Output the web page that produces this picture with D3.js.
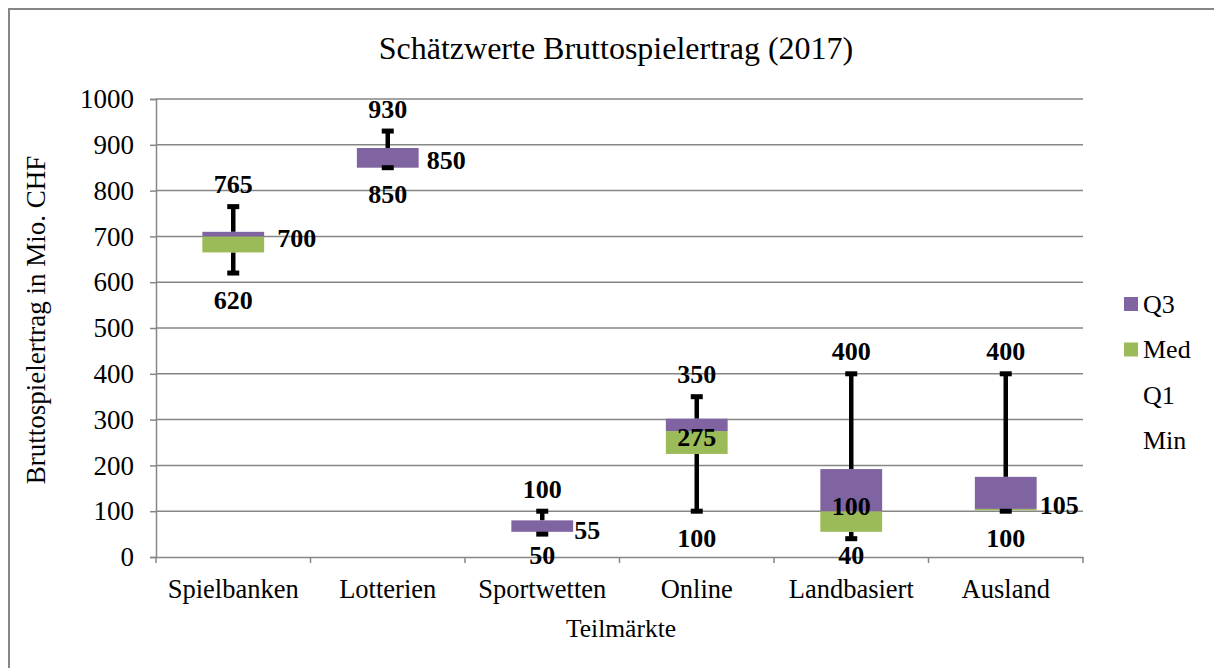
<!DOCTYPE html>
<html>
<head>
<meta charset="utf-8">
<script src="https://cdn.jsdelivr.net/npm/d3@7"></script>
<style>
  html, body { margin: 0; padding: 0; background: #fff; }
  svg { display: block; }
  text { font-family: "Liberation Serif", "Times New Roman", serif; fill: #000; }
</style>
</head>
<body>
<svg id="chart" width="1214" height="668"></svg>
<script>
// ---- data ----
const categories = ["Spielbanken", "Lotterien", "Sportwetten", "Online", "Landbasiert", "Ausland"];
const minVals    = [620, 850, 50, 100, 40, 100];
const q1Vals     = [665, 850, 55, 225, 55, 102];
const medVals    = [700, 850, 55, 275, 100, 105];
const q3Vals     = [710, 893, 80, 302, 192, 175];
const maxVals    = [765, 930, 100, 350, 400, 400];
const yTicks     = [0, 100, 200, 300, 400, 500, 600, 700, 800, 900, 1000];
const legendItems = ["Q3", "Med", "Q1", "Min"];
const legendColors = ["#8064A2", "#9BBB59", null, null];
// label placement styling (not data)
const medLabelPlacement = ["right", "right", "right", "center", "center", "right"];
const medLabelDx = [13, 8, 1, 0, 0, 3];
const medLabelDy = [2, -7, -1, 6, -5, -3];

(function () {
const svg = d3.select("#chart");
const pL = 156, pR = 1083, pT = 99, pB = 557;
const grid = "#868686";
const purple = "#8064A2", green = "#9BBB59";

// outer border
svg.append("path")
  .attr("d", "M9,700 L9,9 L1220,9")
  .attr("fill", "none").attr("stroke", grid).attr("stroke-width", 2);

const x = d3.scaleBand().domain(categories).range([pL, pR]).padding(0);
const y = d3.scaleLinear().domain([0, 1000]).range([pB, pT]);

// title
svg.append("text").attr("x", 616).attr("y", 59).attr("text-anchor", "middle")
  .style("font-size", "32px").text("Schätzwerte Bruttospielertrag (2017)");

// gridlines
svg.append("g").selectAll("line").data(yTicks.filter(d => d > 0)).join("line")
  .attr("x1", pL).attr("x2", pR)
  .attr("y1", d => y(d)).attr("y2", d => y(d))
  .attr("stroke", grid).attr("stroke-width", 1.5);

// y axis
const yAxis = svg.append("g").attr("transform", `translate(${pL},0)`)
  .call(d3.axisLeft(y).tickValues(yTicks).tickSize(6).tickPadding(16).tickFormat(d3.format("d")));
yAxis.select(".domain").attr("stroke", grid).attr("stroke-width", 1.5);
yAxis.selectAll(".tick line").attr("stroke", grid).attr("stroke-width", 1.5);
yAxis.selectAll("text").style("font-size", "27px").style("font-family", "Liberation Serif");

// x axis
const xAxis = svg.append("g").attr("transform", `translate(0,${pB})`)
  .call(d3.axisBottom(x).tickSize(0).tickPadding(22));
xAxis.select(".domain").attr("stroke", grid).attr("stroke-width", 1.5);
xAxis.selectAll("text").style("font-size", "26.5px").style("font-family", "Liberation Serif");
// boundary ticks
const bounds = categories.map(c => x(c)).concat([x(categories[categories.length - 1]) + x.bandwidth()]);
svg.append("g").selectAll("line").data(bounds).join("line")
  .attr("x1", d => d).attr("x2", d => d)
  .attr("y1", pB).attr("y2", pB + 6)
  .attr("stroke", grid).attr("stroke-width", 1.5);

// axis titles
svg.append("text").attr("transform", `translate(45,${(pT + pB) / 2 - 8}) rotate(-90)`)
  .attr("text-anchor", "middle").style("font-size", "27px")
  .text("Bruttospielertrag in Mio. CHF");
svg.append("text").attr("x", 621).attr("y", 637).attr("text-anchor", "middle")
  .style("font-size", "25.5px").text("Teilmärkte");

// boxes
const boxW = x.bandwidth() * 0.4;
const cx = i => x(categories[i]) + x.bandwidth() / 2;
const rows = categories.map((c, i) => ({ i, c, min: minVals[i], q1: q1Vals[i], med: medVals[i], q3: q3Vals[i], max: maxVals[i] }));

const gBox = svg.append("g");
rows.forEach(d => {
  gBox.append("line").attr("x1", cx(d.i)).attr("x2", cx(d.i))
    .attr("y1", y(d.max)).attr("y2", y(d.q3)).attr("stroke", "#000").attr("stroke-width", 4.5);
  gBox.append("line").attr("x1", cx(d.i)).attr("x2", cx(d.i))
    .attr("y1", y(d.q1)).attr("y2", y(d.min)).attr("stroke", "#000").attr("stroke-width", 4.5);
});
gBox.selectAll(".med").data(rows).join("rect")
  .attr("x", d => cx(d.i) - boxW / 2).attr("width", boxW)
  .attr("y", d => y(d.med)).attr("height", d => y(d.q1) - y(d.med))
  .attr("fill", green);
gBox.selectAll(".q3").data(rows).join("rect")
  .attr("x", d => cx(d.i) - boxW / 2).attr("width", boxW)
  .attr("y", d => y(d.q3)).attr("height", d => y(d.med) - y(d.q3))
  .attr("fill", purple);
rows.forEach(d => {
  [d.max, d.min].forEach(v => {
    gBox.append("rect").attr("x", cx(d.i) - 6).attr("width", 12)
      .attr("y", y(v) - 2.5).attr("height", 5).attr("fill", "#000");
  });
});

// labels
const gLab = svg.append("g").style("font-size", "26px").style("font-weight", "bold");
rows.forEach(d => {
  gLab.append("text").attr("x", cx(d.i)).attr("y", y(d.max) - 22).attr("dy", "0.33em")
    .attr("text-anchor", "middle").text(d.max);
  gLab.append("text").attr("x", cx(d.i)).attr("y", Math.min(y(d.min) + 27, 555)).attr("dy", "0.33em")
    .attr("text-anchor", "middle").text(d.min);
  const right = medLabelPlacement[d.i] === "right";
  gLab.append("text")
    .attr("x", right ? cx(d.i) + boxW / 2 + medLabelDx[d.i] : cx(d.i))
    .attr("y", y(d.med) + medLabelDy[d.i]).attr("dy", "0.33em")
    .attr("text-anchor", right ? "start" : "middle").text(d.med);
});

// legend
const lg = svg.append("g");
legendItems.forEach((name, i) => {
  const ly = 304 + i * 45.5;
  if (legendColors[i]) {
    lg.append("rect").attr("x", 1124).attr("y", ly - 7).attr("width", 14).attr("height", 14)
      .attr("fill", legendColors[i]);
  }
  lg.append("text").attr("x", 1143).attr("y", ly).attr("dy", "0.33em")
    .style("font-size", "26px").text(name);
});
})();
</script>
</body>
</html>
